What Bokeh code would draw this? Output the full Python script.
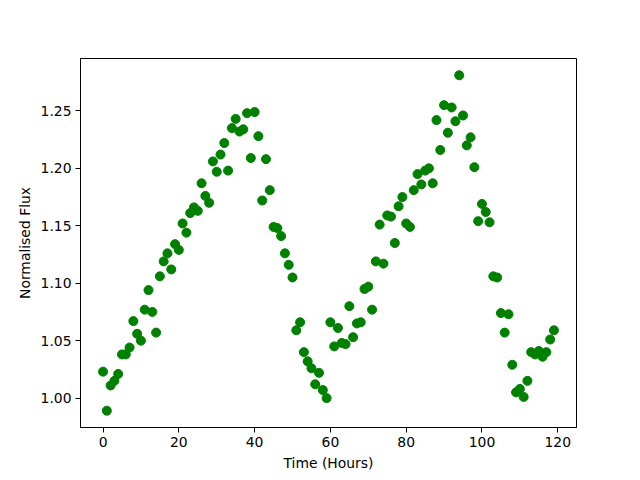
from bokeh.plotting import figure
from bokeh.models import Range1d, FixedTicker, NumeralTickFormatter
from bokeh.embed import file_html
from bokeh.resources import INLINE

hours = list(range(120))
flux = [
    1.023, 0.989, 1.011, 1.015, 1.021, 1.038, 1.038, 1.044, 1.067, 1.056,
    1.050, 1.077, 1.094, 1.075, 1.057, 1.106, 1.119, 1.126, 1.112, 1.134,
    1.129, 1.152, 1.144, 1.161, 1.166, 1.163, 1.187, 1.176, 1.170, 1.206,
    1.197, 1.212, 1.222, 1.198, 1.235, 1.243, 1.232, 1.234, 1.248, 1.209,
    1.249, 1.228, 1.172, 1.208, 1.181, 1.149, 1.148, 1.141, 1.126, 1.116,
    1.105, 1.059, 1.066, 1.040, 1.032, 1.026, 1.012, 1.022, 1.007, 1.000,
    1.066, 1.045, 1.061, 1.048, 1.047, 1.080, 1.053, 1.065, 1.066, 1.095,
    1.097, 1.077, 1.119, 1.151, 1.117, 1.159, 1.158, 1.135, 1.167, 1.175,
    1.152, 1.149, 1.181, 1.195, 1.186, 1.198, 1.200, 1.187, 1.242, 1.216,
    1.255, 1.231, 1.253, 1.241, 1.281, 1.246, 1.220, 1.227, 1.201, 1.154,
    1.169, 1.162, 1.153, 1.106, 1.105, 1.074, 1.057, 1.073, 1.029, 1.005,
    1.008, 1.001, 1.015, 1.040, 1.038, 1.041, 1.036, 1.040, 1.051, 1.059,
]
x_ticks = [0, 20, 40, 60, 80, 100, 120]
y_ticks = [1.00, 1.05, 1.10, 1.15, 1.20, 1.25]

xmin, xmax = min(hours), max(hours)
ymin, ymax = min(flux), max(flux)
xm = (xmax - xmin) * 0.05
ym = (ymax - ymin) * 0.05

p = figure(width=640, height=480, output_backend="svg", toolbar_location=None,
           x_range=Range1d(xmin - xm, xmax + xm), y_range=Range1d(ymin - ym, ymax + ym),
           min_border_left=80, min_border_right=64, min_border_top=58, min_border_bottom=53)
p.background_fill_color = "white"
p.border_fill_color = "white"
p.outline_line_color = "black"
p.outline_line_width = 1
p.outline_line_alpha = 1
p.xgrid.visible = False
p.ygrid.visible = False

p.scatter(hours, flux, size=9, color="#008000", line_color="#008000")

font = "DejaVu Sans"
for ax in (p.xaxis[0], p.yaxis[0]):
    ax.axis_line_color = "black"
    ax.major_tick_line_color = "black"
    ax.major_tick_out = 5
    ax.major_tick_in = 0
    ax.minor_tick_line_color = None
    ax.major_label_text_font = font
    ax.major_label_text_font_size = "13.9px"
    ax.major_label_text_color = "black"
    ax.axis_label_text_font = font
    ax.axis_label_text_font_size = "13.9px"
    ax.axis_label_text_font_style = "normal"
    ax.axis_label_text_color = "black"
    ax.major_label_standoff = 4

p.xaxis.ticker = FixedTicker(ticks=x_ticks)
p.yaxis.ticker = FixedTicker(ticks=y_ticks)
p.yaxis.formatter = NumeralTickFormatter(format="0.00")
p.xaxis.axis_label = "Time (Hours)"
p.yaxis.axis_label = "Normalised Flux"
p.xaxis.axis_label_standoff = 5
p.yaxis.axis_label_standoff = 5

open("out.html", "w").write(file_html(p, INLINE))
